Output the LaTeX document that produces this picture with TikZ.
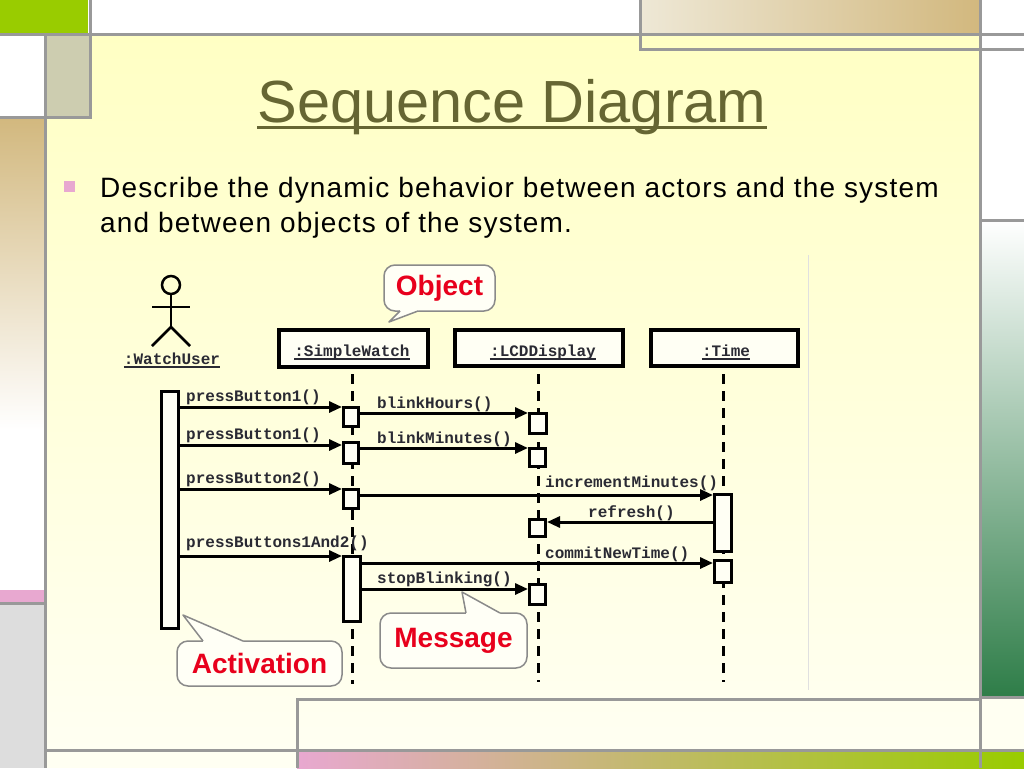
\documentclass[tikz,border=0pt]{standalone}
\usepackage{fontspec}
\setmainfont{Liberation Sans}
\newfontfamily\codefont{Liberation Mono}
\usetikzlibrary{arrows.meta}
\definecolor{framegray}{HTML}{999999}
\definecolor{leaf}{HTML}{99CC00}
\definecolor{tanA}{HTML}{EEE8D6}
\definecolor{tanB}{HTML}{D2B87E}
\definecolor{pinkish}{HTML}{E8A8D0}
\definecolor{lightgray}{HTML}{DDDDDD}
\definecolor{beigebox}{HTML}{CDCDB0}
\definecolor{bgtop}{HTML}{FFFFC4}
\definecolor{bgbot}{HTML}{FFFFF2}
\definecolor{deepgreen}{HTML}{2E7D48}
\definecolor{titlecol}{HTML}{666633}
\definecolor{codecol}{HTML}{2A2A33}
\definecolor{calred}{HTML}{E8001C}
\definecolor{calborder}{HTML}{8A8A8A}
\definecolor{calfill}{HTML}{FFFFF6}
\definecolor{actfill}{HTML}{FFFFF4}
\tikzset{
  frameline/.style={framegray, line width=3pt},
  obj/.style={draw=black, line width=4pt, fill=actfill, inner sep=0pt},
  objtxt/.style={font=\codefont\bfseries\fontsize{16}{18}\selectfont, text=codecol, inner sep=0pt, anchor=base},
  ulline/.style={codecol, line width=1.2pt},
  lifeline/.style={black, line width=3pt, dash pattern=on 10pt off 7pt},
  actbox/.style={draw=black, line width=3pt, fill=actfill, inner sep=0pt},
  msg/.style={black, line width=3pt, -{Triangle[length=13pt,width=11pt]}},
  msgtxt/.style={font=\codefont\bfseries\fontsize{16}{18}\selectfont, text=codecol, inner sep=0pt, anchor=base west},
  callbox/.style={draw=calborder, line width=1.5pt, fill=calfill, rounded corners=11pt, inner sep=0pt},
  calltxt/.style={font=\bfseries\fontsize{28}{30}\selectfont, text=calred},
  tailfill/.style={fill=calfill},
  tailline/.style={draw=calborder, line width=1.5pt, line join=round}
}
\begin{document}
\begin{tikzpicture}[x=1pt,y=-1pt]
\useasboundingbox (0,0) rectangle (1024,768);
% ---------- slide background ----------
\fill[white] (0,0) rectangle (1024,768);
\shade[top color=bgtop, bottom color=bgbot] (45,35) rectangle (980,750);
\fill[bgbot] (45,750) rectangle (297,768);
\fill[leaf] (0,0) rectangle (88,34);
\shade[left color=tanA, right color=tanB] (640,0) rectangle (980,34);
\fill[beigebox] (45,35) rectangle (90,117);
\shade[top color=tanB, bottom color=white] (0,117) rectangle (45,430);
\fill[pinkish] (0,590) rectangle (45,602);
\fill[lightgray] (0,603) rectangle (45,768);
\shade[top color=white, bottom color=deepgreen] (980,220) rectangle (1024,697);
\fill[bgbot] (980,697) rectangle (1024,750);
\shade[left color=pinkish, right color=leaf] (297,751) rectangle (1024,768);
% frame lines
\draw[frameline] (0,35) -- (1024,35);
\draw[frameline] (640,0) -- (640,50) -- (1024,50);
\draw[frameline] (980,0) -- (980,768);
\draw[frameline] (45,35) -- (45,768);
\draw[frameline] (90,0) -- (90,117) -- (0,117);
\draw[frameline] (0,603) -- (45,603);
\draw[frameline] (980,220) -- (1024,220);
\draw[frameline] (980,697) -- (1024,697);
\draw[frameline] (297,768) -- (297,699) -- (980,699);
\draw[frameline] (45,750) -- (1024,750);
% ---------- title and bullet ----------
\node[font=\fontsize{59.5}{62}\selectfont, text=titlecol, inner sep=0pt, anchor=base] (title) at (512,122) {Sequence Diagram};
\draw[titlecol, line width=2.5pt] ([yshift=-5.5pt]title.base west) -- ([yshift=-5.5pt]title.base east);
\node[fill=pinkish, minimum size=11pt, inner sep=0pt] (bullet) at (69,186) {};
\node[font=\addfontfeatures{LetterSpace=4.2}\fontsize{28}{30}\selectfont, text=black, inner sep=0pt, anchor=base west] (line1) at (100,197) {Describe the dynamic behavior between actors and the system};
\node[font=\addfontfeatures{LetterSpace=4.2}\fontsize{28}{30}\selectfont, text=black, inner sep=0pt, anchor=base west] (line2) at (100,232) {and between objects of the system.};
% picture edge
\draw[black!12, line width=1pt] (808,255) -- (808,690);
% ---------- actor ----------
\node[circle, draw=black, line width=2.5pt, minimum size=18pt, inner sep=0pt] (head) at (171,285) {};
\coordinate (hip) at (171,327);
\coordinate (armL) at (152,307);
\coordinate (armR) at (190,307);
\coordinate (footL) at (152,346);
\coordinate (footR) at (190,346);
\draw[black, line width=2.5pt] (head.south) -- (hip);
\draw[black, line width=2.5pt] (armL) -- (armR);
\draw[black, line width=2.5pt, line join=round] (footL) -- (hip) -- (footR);
\node[objtxt] (usert) at (172,364) {:WatchUser};
\draw[ulline] ([yshift=-3pt]usert.base west) -- ([yshift=-3pt]usert.base east);
% ---------- objects ----------
\node[obj, minimum width=149pt, minimum height=37pt] (sw) at (353.5,348.5) {};
\node[obj, minimum width=168pt, minimum height=36pt] (lcd) at (539,348) {};
\node[obj, minimum width=147pt, minimum height=36pt] (tm) at (724.5,348) {};
\node[objtxt] (swt) at (352,356) {:SimpleWatch};
\node[objtxt] (lcdt) at (543,356) {:LCDDisplay};
\node[objtxt] (tmt) at (726,356) {:Time};
\draw[ulline] ([yshift=-3pt]swt.base west) -- ([yshift=-3pt]swt.base east);
\draw[ulline] ([yshift=-3pt]lcdt.base west) -- ([yshift=-3pt]lcdt.base east);
\draw[ulline] ([yshift=-3pt]tmt.base west) -- ([yshift=-3pt]tmt.base east);
% lifelines
\coordinate (swEnd) at (352,684);
\coordinate (lcdEnd) at (538,682);
\coordinate (tmEnd) at (723,682);
\draw[lifeline] (352,374) -- (swEnd);
\draw[lifeline] (538,374) -- (lcdEnd);
\draw[lifeline] (723,374) -- (tmEnd);
% ---------- activations ----------
\node[actbox, minimum width=17pt, minimum height=237pt] (ub) at (170,510) {};
\node[actbox, minimum width=15pt, minimum height=19pt] (sw1) at (351,417) {};
\node[actbox, minimum width=15pt, minimum height=21pt] (sw2) at (351,453) {};
\node[actbox, minimum width=15pt, minimum height=19pt] (sw3) at (351,499) {};
\node[actbox, minimum width=17pt, minimum height=65pt] (sw4) at (352,589) {};
\node[actbox, minimum width=17pt, minimum height=20pt] (lcd1) at (538,423.5) {};
\node[actbox, minimum width=16pt, minimum height=18pt] (lcd2) at (537.5,457.5) {};
\node[actbox, minimum width=16pt, minimum height=17pt] (lcd3) at (537.5,528) {};
\node[actbox, minimum width=16pt, minimum height=20pt] (lcd4) at (537.5,594.5) {};
\node[actbox, minimum width=17pt, minimum height=57pt] (t1) at (723,523) {};
\node[actbox, minimum width=17pt, minimum height=22pt] (t2) at (723,571.5) {};
% ---------- messages ----------
\draw[msg] (ub.east |- 0,407) -- (sw1.west |- 0,407);
\draw[msg] (sw1.east |- 0,413) -- (lcd1.west |- 0,413);
\draw[msg] (ub.east |- 0,445) -- (sw2.west |- 0,445);
\draw[msg] (sw2.east |- 0,448) -- (lcd2.west |- 0,448);
\draw[msg] (ub.east |- 0,489) -- (sw3.west |- 0,489);
\draw[msg] (sw3.east |- 0,495) -- (t1.west |- 0,495);
\draw[msg] (t1.west |- 0,522) -- (lcd3.east |- 0,522);
\draw[msg] (ub.east |- 0,556) -- (sw4.west |- 0,556);
\draw[msg] (sw4.east |- 0,563) -- (t2.west |- 0,563);
\draw[msg] (sw4.east |- 0,589) -- (lcd4.west |- 0,589);
\node[msgtxt] (m1) at (186,401) {pressButton1()};
\node[msgtxt] (m2) at (377,408) {blinkHours()};
\node[msgtxt] (m3) at (186,439) {pressButton1()};
\node[msgtxt] (m4) at (377,443) {blinkMinutes()};
\node[msgtxt] (m5) at (186,483) {pressButton2()};
\node[msgtxt] (m6) at (545,487) {incrementMinutes()};
\node[msgtxt] (m7) at (588,517) {refresh()};
\node[msgtxt] (m8) at (186,547) {pressButtons1And2()};
\node[msgtxt] (m9) at (545,558) {commitNewTime()};
\node[msgtxt] (m10) at (377,583) {stopBlinking()};
% ---------- callouts ----------
% Object
\node[callbox, minimum width=111pt, minimum height=46pt] (cobj) at (439.5,288) {};
\node[calltxt] (cobjt) at (cobj) {Object};
\coordinate (cobjtip) at (389,322);
\fill[tailfill] (400,308) -- (400,311) -- (cobjtip) -- (418,311) -- (418,308) -- cycle;
\draw[tailline] (400,311) -- (cobjtip) -- (418,311);
% Activation
\node[callbox, minimum width=165pt, minimum height=45pt] (cact) at (259.5,663.5) {};
\node[calltxt] (cactt) at (cact) {Activation};
\coordinate (cacttip) at (183,615);
\fill[tailfill] (203,644) -- (203,641) -- (cacttip) -- (243,641) -- (243,644) -- cycle;
\draw[tailline] (203,641) -- (cacttip) -- (243,641);
% Message
\node[callbox, minimum width=147pt, minimum height=55pt] (cmsg) at (453.5,640.5) {};
\node[calltxt] (cmsgt) at (cmsg) {Message};
\coordinate (cmsgtip) at (462,592);
\fill[tailfill] (466,616) -- (466,613) -- (cmsgtip) -- (500,613) -- (500,616) -- cycle;
\draw[tailline] (466,613) -- (cmsgtip) -- (500,613);
\end{tikzpicture}
\end{document}
